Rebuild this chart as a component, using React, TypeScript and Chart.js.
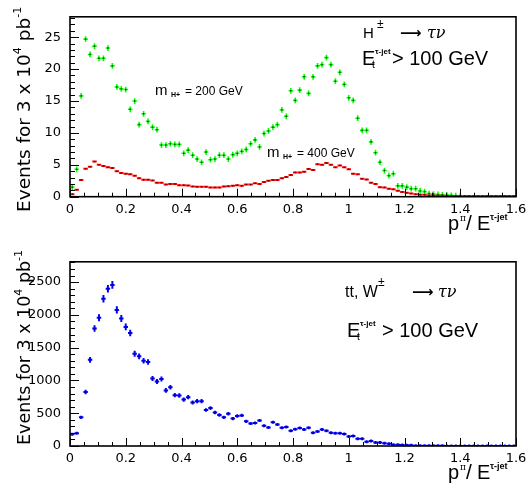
import React, { useEffect, useRef } from 'react';
import { Chart, registerables } from 'chart.js';

Chart.register(...registerables);

// ---------------- data ----------------
const BIN_WIDTH = 0.016; // 100 bins from 0 to 1.6
const X_MIN = 0;
const X_MAX = 1.6;

const X_TICKS = [0, 0.2, 0.4, 0.6, 0.8, 1, 1.2, 1.4, 1.6];
const TOP_Y_TICKS = [0, 5, 10, 15, 20, 25];
const BOTTOM_Y_TICKS = [0, 500, 1000, 1500, 2000, 2500];
const TOP_Y_MAX = 28.2;
const BOTTOM_Y_MAX = 2810;

// H+ (m = 200 GeV), green
const greenH200: (number | null)[] = [
  1.5, 4.3, 15.8, 24.7, 22.3, 23.6, 21.7, 21.7, 23.3, 20.5,
  17.2, 16.9, 16.8, 13.7, 15.0, 11.3, 13.0, 11.8, 10.9, 10.5,
  8.1, 8.1, 8.3, 8.2, 8.2, 6.8, 7.3, 6.5, 5.9, 5.4,
  7.0, 5.8, 5.9, 6.5, 6.5, 5.9, 6.6, 6.8, 7.1, 7.4,
  8.3, 8.9, 7.8, 9.9, 10.3, 10.9, 11.3, 13.6, 12.6, 16.6,
  15.1, 16.7, 18.8, 16.2, 18.8, 20.5, 20.7, 21.8, 20.7, 18.1,
  19.5, 17.6, 15.5, 15.1, 12.3, 10.4, 10.4, 8.6, 6.9, 5.4,
  4.1, 3.3, 3.6, 1.7, 1.7, 1.5, 1.25, 1.25, 0.9, 0.8,
  0.5, 0.4, 0.35, 0.3, 0.25, 0.2, 0.15, 0.1, null, null,
  null, null, null, null, null, null, null, null, null, null,
];

// H+ (m = 400 GeV), red
const redH400: (number | null)[] = [
  0.4, 1.1, 2.6, 4.4, 4.7, 5.5, 5.0, 4.8, 4.6, 4.5,
  4.0, 3.7, 3.6, 3.5, 3.3, 2.9, 2.65, 2.65, 2.55, 2.2,
  2.2, 1.9, 2.0, 2.0, 1.8, 1.8, 1.75, 1.6, 1.55, 1.55,
  1.55, 1.45, 1.45, 1.45, 1.6, 1.65, 1.7, 1.8, 1.7, 1.9,
  1.9, 2.1, 2.0, 2.3, 2.5, 2.6, 2.6, 2.9, 3.1, 3.4,
  3.8, 3.8, 3.9, 4.35, 4.2, 5.1, 5.0, 5.3, 5.0, 4.6,
  4.9, 4.6, 4.3, 3.6, 3.5, 2.8, 2.7, 2.2, 2.0, 1.5,
  1.45, 1.25, 1.15, 0.95, 0.75, 0.6, 0.5, 0.4, 0.3, 0.3,
  0.2, 0.2, 0.15, 0.15, 0.12, 0.12, 0.1, 0.1, 0.1, 0.1,
  0.1, 0.1, 0.1, 0.1, 0.1, 0.1, 0.1, 0.1, 0.1, 0.1,
];

// tt, W -> tau nu background, blue
const blueBkg: (number | null)[] = [
  178, 193, 438, 824, 1315, 1792, 1956, 2245, 2399, 2457,
  2076, 1946, 1816, 1724, 1407, 1368, 1301, 1281, 1031, 983,
  1021, 848, 896, 776, 771, 708, 745, 665, 684, 684,
  549, 578, 511, 472, 438, 491, 419, 458, 467, 376,
  342, 352, 390, 308, 284, 361, 328, 279, 289, 231,
  255, 275, 250, 277, 202, 222, 250, 231, 202, 193,
  193, 183, 145, 154, 111, 111, 63, 77, 53, 53,
  43, 34, 19, 19, 14, 10, 10, 5, 4, 3,
  3, 2, 2, 2, 1, 1, 1, 1, 1, 1,
  1, 1, 1, 1, 1, 1, 1, 1, 1, 1,
];

// ---------------- helpers ----------------
type Run = {
  t: string;
  size: number;
  x?: number;
  inkX?: number;
  dy?: number;
  bold?: boolean;
  italic?: boolean;
  family?: string;
};

const SANS = '"Liberation Sans", Arial, sans-serif';
const DEJAVU = '"DejaVu Sans", sans-serif';
const SERIF = '"DejaVu Serif", serif';

function fontOf(r: Run) {
  return `${r.italic ? 'italic ' : ''}${r.bold ? 'bold ' : ''}${r.size}px ${r.family ?? SANS}`;
}

function drawRuns(ctx: CanvasRenderingContext2D, x0: number, y0: number, runs: Run[]) {
  let x = x0;
  ctx.textAlign = 'left';
  ctx.textBaseline = 'alphabetic';
  for (const r of runs) {
    ctx.font = fontOf(r);
    const m = ctx.measureText(r.t);
    if (r.x !== undefined) x = r.x;
    if (r.inkX !== undefined) x = r.inkX + (m.actualBoundingBoxLeft || 0);
    ctx.fillText(r.t, x, y0 + (r.dy ?? 0));
    x += m.width;
  }
  return x;
}

function measureRuns(ctx: CanvasRenderingContext2D, runs: Run[]) {
  let w = 0;
  for (const r of runs) {
    ctx.font = fontOf(r);
    w += ctx.measureText(r.t).width;
  }
  return w;
}

function toPoints(values: (number | null)[]) {
  const pts: { x: number; y: number }[] = [];
  values.forEach((v, i) => {
    if (v !== null) pts.push({ x: X_MIN + (i + 0.5) * BIN_WIDTH, y: v });
  });
  return pts;
}

type HistStyle = {
  color: string;
  lw: number;
  vertical: boolean;
  err: (v: number) => number;
  minHalf: number;
  dot?: string;
};

const histPlugin = {
  id: 'histErrors',
  afterDatasetsDraw(chart: any) {
    const ctx: CanvasRenderingContext2D = chart.ctx;
    const xs = chart.scales.x;
    const ys = chart.scales.y;
    const ca = chart.chartArea;
    ctx.save();
    ctx.beginPath();
    ctx.rect(ca.left, ca.top - 2, ca.right - ca.left, ca.bottom - ca.top + 2);
    ctx.clip();
    chart.data.datasets.forEach((ds: any, di: number) => {
      const meta = chart.getDatasetMeta(di);
      const st: HistStyle = ds.hist;
      meta.data.forEach((el: any, i: number) => {
        const p = ds.data[i];
        const cx = el.x;
        const cy = el.y;
        const xl = xs.getPixelForValue(p.x - BIN_WIDTH / 2);
        const xr = xs.getPixelForValue(p.x + BIN_WIDTH / 2);
        ctx.strokeStyle = st.color;
        ctx.lineWidth = st.lw;
        ctx.beginPath();
        ctx.moveTo(xl, cy);
        ctx.lineTo(xr, cy);
        if (st.vertical) {
          const e = st.err(p.y);
          let yt = ys.getPixelForValue(p.y + e);
          let yb = ys.getPixelForValue(p.y - e);
          if (cy - yt < st.minHalf) {
            yt = cy - st.minHalf;
            yb = cy + st.minHalf;
          }
          ctx.moveTo(cx, yt);
          ctx.lineTo(cx, yb);
        }
        ctx.stroke();
        if (st.dot) {
          ctx.fillStyle = st.dot;
          ctx.fillRect(cx - 0.7, cy - 0.7, 1.4, 1.4);
        }
      });
    });
    ctx.restore();
  },
};

type DecorCfg = {
  yMinor: number;
  yMajor: number;
  xMinor: number;
  xMajor: number;
  pageTop: number;
  yTitleStart: number;
  yTitleSize: number;
  texts: { x: number; y: number; runs: Run[] }[];
};

function yTitleRuns(s: number): Run[] {
  const sup = Math.round(s * 0.6);
  return [
    { t: 'Events for 3 x 10', size: s, family: DEJAVU },
    { t: '4', size: sup, dy: -s * 0.47, family: DEJAVU },
    { t: ' pb', size: s, family: DEJAVU },
    { t: '-1', size: sup, dy: -s * 0.47, family: DEJAVU },
  ];
}

const xTitleRuns: Run[] = [
  { t: 'p', size: 20, x: 448 },
  { t: 'π', size: 9, x: 460, dy: -9, family: SERIF },
  { t: '/', size: 21, x: 466 },
  { t: 'E', size: 20, x: 477 },
  { t: 'τ-jet', size: 9, bold: true, x: 490, dy: -10 },
];

function makeDecor(cfg: DecorCfg) {
  return {
    id: 'decor',
    afterDraw(chart: any) {
      const ctx: CanvasRenderingContext2D = chart.ctx;
      const ca = chart.chartArea;
      const xs = chart.scales.x;
      const ys = chart.scales.y;
      ctx.save();
      ctx.strokeStyle = '#000';
      ctx.fillStyle = '#000';
      ctx.lineWidth = 1;
      ctx.beginPath();
      const nx = Math.round((X_MAX - X_MIN) / cfg.xMinor);
      for (let k = 0; k <= nx; k++) {
        const v = X_MIN + k * cfg.xMinor;
        const r = v / cfg.xMajor;
        const major = Math.abs(r - Math.round(r)) < 1e-6;
        const px = Math.round(xs.getPixelForValue(v)) + 0.5;
        ctx.moveTo(px, ca.bottom);
        ctx.lineTo(px, ca.bottom - (major ? 8 : 4));
      }
      const yMax = ys.max;
      const ny = Math.floor(yMax / cfg.yMinor + 1e-6);
      for (let k = 0; k <= ny; k++) {
        const v = k * cfg.yMinor;
        const r = v / cfg.yMajor;
        const major = Math.abs(r - Math.round(r)) < 1e-6;
        const py = Math.round(ys.getPixelForValue(v)) + 0.5;
        ctx.moveTo(ca.left, py);
        ctx.lineTo(ca.left + (major ? 9 : 5), py);
      }
      ctx.stroke();
      ctx.lineWidth = 1.6;
      ctx.strokeRect(ca.left, ca.top, ca.right - ca.left, ca.bottom - ca.top);

      // y title (rotated, reading upwards)
      ctx.save();
      ctx.translate(30, cfg.yTitleStart - cfg.pageTop);
      ctx.rotate(-Math.PI / 2);
      drawRuns(ctx, 0, 0, yTitleRuns(cfg.yTitleSize));
      ctx.restore();

      // x title
      drawRuns(ctx, 448, ca.bottom + 33, xTitleRuns);

      for (const t of cfg.texts) {
        drawRuns(ctx, t.x, t.y - cfg.pageTop, t.runs);
      }
      ctx.restore();
    },
  };
}

const tickFont = { family: 'DejaVu Sans', size: 13 };

function buildChart(
  canvas: HTMLCanvasElement,
  datasets: any[],
  yMax: number,
  yTicks: number[],
  padTop: number,
  xAxisH: number,
  decor: any
) {
  return new Chart(canvas, {
    type: 'scatter',
    data: { datasets },
    options: {
      animation: false,
      responsive: false,
      events: [],
      layout: { padding: { left: 0, right: 16, top: padTop, bottom: 0 } },
      plugins: { legend: { display: false }, tooltip: { enabled: false } },
      elements: { point: { radius: 0, hoverRadius: 0 } },
      scales: {
        x: {
          type: 'linear',
          min: X_MIN,
          max: X_MAX,
          border: { display: false },
          grid: { display: false, drawTicks: false },
          ticks: {
            padding: 5,
            color: '#000',
            font: tickFont,
            maxRotation: 0,
            autoSkip: false,
            callback: (v: any) => String(v),
          },
          afterBuildTicks: (s: any) => {
            s.ticks = X_TICKS.map((v) => ({ value: v }));
          },
          afterFit: (s: any) => {
            s.height = xAxisH;
          },
        },
        y: {
          type: 'linear',
          min: 0,
          max: yMax,
          border: { display: false },
          grid: { display: false, drawTicks: false },
          ticks: {
            padding: 9,
            color: '#000',
            font: tickFont,
            autoSkip: false,
            callback: (v: any) => String(v),
          },
          afterBuildTicks: (s: any) => {
            s.ticks = yTicks.map((v) => ({ value: v }));
          },
          afterFit: (s: any) => {
            s.width = 70;
          },
        },
      },
    } as any,
    plugins: [histPlugin, decor],
  });
}

export default function App() {
  const topRef = useRef<HTMLCanvasElement>(null);
  const botRef = useRef<HTMLCanvasElement>(null);

  useEffect(() => {
    const topDecor = makeDecor({
      yMinor: 1,
      yMajor: 5,
      xMinor: 0.05,
      xMajor: 0.2,
      pageTop: 0,
      yTitleStart: 212,
      yTitleSize: 18.5,
      texts: [
        {
          x: 363,
          y: 38,
          runs: [
            { t: 'H', size: 15, x: 363 },
            { t: '±', size: 12, x: 377, dy: -10 },
            { t: '⟶', size: 15, inkX: 400, dy: 0, bold: true, family: DEJAVU },
            { t: 'τν', size: 16, italic: true, x: 427, family: SERIF },
          ],
        },
        {
          x: 363,
          y: 65,
          runs: [
            { t: 'E', size: 20, x: 362 },
            { t: 't', size: 10, x: 372, dy: 3 },
            { t: 'τ-jet', size: 8, bold: true, x: 375, dy: -11 },
            { t: '> 100 GeV', size: 20, x: 392 },
          ],
        },
        {
          x: 155,
          y: 95,
          runs: [
            { t: 'm', size: 15, x: 155 },
            { t: 'H+', size: 7, bold: true, x: 171, dy: 2 },
            { t: '= 200 GeV', size: 12, x: 185 },
          ],
        },
        {
          x: 267,
          y: 157,
          runs: [
            { t: 'm', size: 15, x: 267 },
            { t: 'H+', size: 7, bold: true, x: 283, dy: 2 },
            { t: '= 400 GeV', size: 12, x: 297 },
          ],
        },
      ],
    });

    const botDecor = makeDecor({
      yMinor: 100,
      yMajor: 500,
      xMinor: 0.05,
      xMajor: 0.2,
      pageTop: 245,
      yTitleStart: 445,
      yTitleSize: 17.5,
      texts: [
        {
          x: 345,
          y: 297,
          runs: [
            { t: 'tt, W', size: 16, x: 345 },
            { t: '±', size: 12, x: 378, dy: -11 },
            { t: '⟶', size: 15, inkX: 412, dy: 0, bold: true, family: DEJAVU },
            { t: 'τν', size: 16, italic: true, x: 438, family: SERIF },
          ],
        },
        {
          x: 348,
          y: 337,
          runs: [
            { t: 'E', size: 20, x: 347 },
            { t: 't', size: 10, x: 357, dy: 3 },
            { t: 'τ-jet', size: 8, bold: true, x: 360, dy: -11 },
            { t: '> 100 GeV', size: 20, x: 382 },
          ],
        },
      ],
    });

    const topChart = buildChart(
      topRef.current!,
      [
        {
          label: 'm_H+ = 200 GeV',
          data: toPoints(greenH200),
          pointRadius: 0,
          hist: { color: '#00ff00', lw: 1.6, vertical: true, err: () => 0.45, minHalf: 2, dot: '#004400' },
        },
        {
          label: 'm_H+ = 400 GeV',
          data: toPoints(redH400),
          pointRadius: 0,
          hist: { color: '#ff0000', lw: 2, vertical: false, err: () => 0, minHalf: 0, dot: '#660000' },
        },
      ],
      TOP_Y_MAX,
      TOP_Y_TICKS,
      2.5,
      245 - 196.7,
      topDecor
    );

    const botChart = buildChart(
      botRef.current!,
      [
        {
          label: 'tt, W',
          data: toPoints(blueBkg),
          pointRadius: 0,
          hist: {
            color: '#0000ff',
            lw: 2,
            vertical: true,
            err: (v: number) => 1.2 * Math.sqrt(v),
            minHalf: 1.5,
            dot: '#000088',
          },
        },
      ],
      BOTTOM_Y_MAX,
      BOTTOM_Y_TICKS,
      6.7,
      246 - 201,
      botDecor
    );

    return () => {
      topChart.destroy();
      botChart.destroy();
    };
  }, []);

  return (
    <div style={{ position: 'fixed', left: 0, top: 0, width: 532, height: 491, background: '#fff' }}>
      <canvas ref={topRef} width={532} height={245} style={{ position: 'absolute', left: 0, top: 0, width: 532, height: 245 }} />
      <canvas ref={botRef} width={532} height={246} style={{ position: 'absolute', left: 0, top: 245, width: 532, height: 246 }} />
    </div>
  );
}
